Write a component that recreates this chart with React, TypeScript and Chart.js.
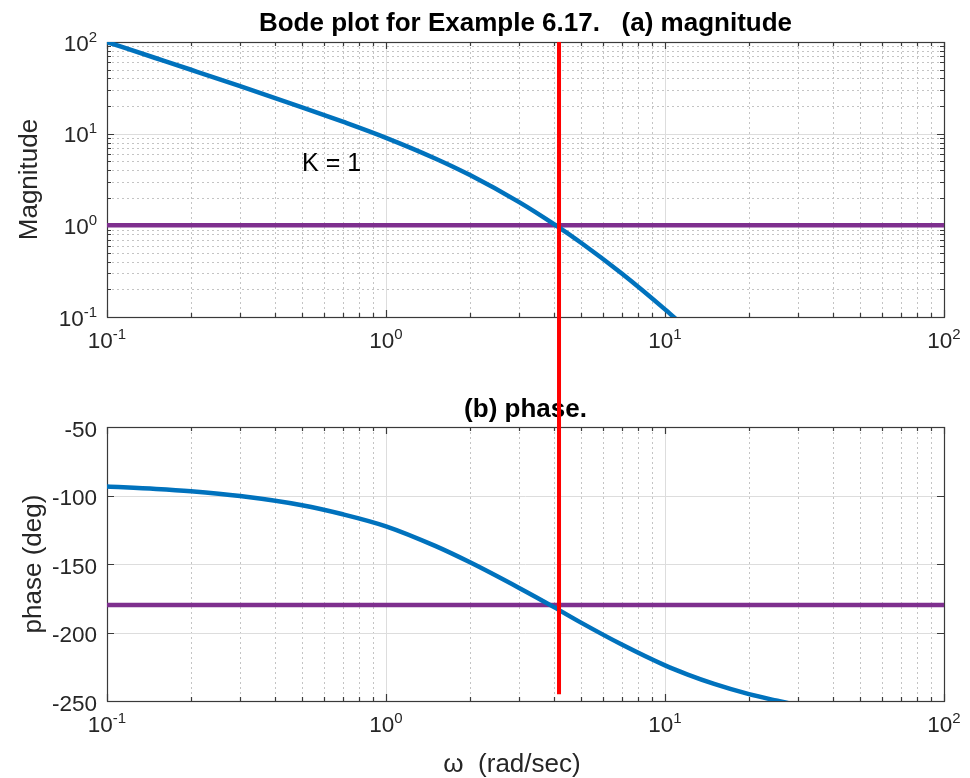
import React, { useEffect, useRef } from 'react';
import { Chart, registerables } from 'chart.js';

Chart.register(...registerables);

// ---------- data ----------
const omega = [0.1, 0.15, 0.2, 0.3, 0.5, 0.7, 1, 1.5, 2, 3, 4, 5, 7, 10, 12, 15, 20, 25, 30, 50, 100];
const magnitude = [99.9, 66.5, 49.8, 33.0, 19.4, 13.5, 9.0, 5.36, 3.53, 1.79, 1.03, 0.646, 0.298, 0.121, 0.074, 0.04, 0.0177, 0.0093, 0.0054, 0.0012, 0.00015];
const phaseDeg = [-93.5, -95.2, -96.9, -100.4, -107.1, -113.7, -122.5, -136.8, -148.8, -167.5, -181.5, -192.8, -208.8, -224.0, -230.5, -237.5, -245.0, -249.6, -253.0, -259.6, -264.8];

const crossoverOmega = 4.17;
const redLineMagTop = 100;
const redLinePhaseEnd = -245;
const magRefLevel = 1;
const phaseRefLevel = -180;

const xTickExponents = [-1, 0, 1, 2];
const magTickExponents = [-1, 0, 1, 2];
const phaseTicks = [-50, -100, -150, -200, -250];
const minorMultipliers = [2, 3, 4, 5, 6, 7, 8, 9];

const titleTop = 'Bode plot for Example 6.17.   (a) magnitude';
const titleBottom = '(b) phase.';
const magLabel = 'Magnitude';
const phaseLabel = 'phase (deg)';
const xLabel = 'ω  (rad/sec)';
const annotationText = 'K = 1';
const annotationAt = { x: 0.5, y: 5 };

// ---------- styling ----------
const FONT = '"Liberation Sans", Arial, Helvetica, sans-serif';
const TEXT = '#262626';
const BLUE = '#0072BD';
const PURPLE = '#7E2F8E';
const RED = '#FF0000';
const W = 970;
const TOP_H = 380;
const BOT_H = 398;

const decadesFrom = (exps: number[]) => exps.map((e) => Math.pow(10, e));
const minorsFrom = (exps: number[]) => {
  const out: number[] = [];
  for (let i = 0; i < exps.length - 1; i++) {
    for (const m of minorMultipliers) out.push(m * Math.pow(10, exps[i]));
  }
  return out;
};

type Lbl = { v: number; base: string; sup: string };
type AxesCfg = {
  xMajor: number[];
  xMinor: number[];
  yMajor: number[];
  yMinor: number[];
  xLabels: Lbl[];
  yLabels: Lbl[];
  yLabelBaselineShift: number;
  title: string;
  titleBaseline: number;
  yTitle: string;
  yTitleX: number;
  xTitle?: string;
  xTitleX?: number;
  xTitleBaseline?: number;
  annotation?: { text: string; x: number; y: number };
};

const snap = (v: number) => Math.round(v) + 0.5;

function drawSup(
  ctx: CanvasRenderingContext2D,
  base: string,
  sup: string,
  x: number,
  baseline: number,
  align: 'center' | 'right'
) {
  const baseFont = `22.5px ${FONT}`;
  const supFont = `15px ${FONT}`;
  ctx.font = baseFont;
  const wb = ctx.measureText(base).width;
  ctx.font = supFont;
  const ws = sup ? ctx.measureText(sup).width : 0;
  const total = wb + ws;
  const sx = align === 'center' ? x - total / 2 : x - total;
  ctx.textAlign = 'left';
  ctx.textBaseline = 'alphabetic';
  ctx.font = baseFont;
  ctx.fillText(base, sx, baseline);
  if (sup) {
    ctx.font = supFont;
    ctx.fillText(sup, sx + wb, baseline - 9);
  }
}

function makeAxesPlugin(cfg: AxesCfg) {
  return {
    id: 'matlabAxes',
    beforeDatasetsDraw(chart: any) {
      const { ctx, chartArea } = chart;
      const xs = chart.scales.x;
      const ys = chart.scales.y;
      const L = chartArea.left;
      const R = chartArea.right;
      const T = chartArea.top;
      const B = chartArea.bottom;
      ctx.save();

      // minor grid (dotted)
      ctx.lineWidth = 1;
      ctx.setLineDash([2, 3]);
      ctx.strokeStyle = '#c4c4c4';
      ctx.beginPath();
      for (const v of cfg.xMinor) {
        const px = snap(xs.getPixelForValue(v));
        ctx.moveTo(px, T);
        ctx.lineTo(px, B);
      }
      for (const v of cfg.yMinor) {
        const py = snap(ys.getPixelForValue(v));
        ctx.moveTo(L, py);
        ctx.lineTo(R, py);
      }
      ctx.stroke();

      // major grid (solid)
      ctx.setLineDash([]);
      ctx.strokeStyle = '#dddddd';
      ctx.beginPath();
      for (const v of cfg.xMajor) {
        const px = snap(xs.getPixelForValue(v));
        ctx.moveTo(px, T);
        ctx.lineTo(px, B);
      }
      for (const v of cfg.yMajor) {
        const py = snap(ys.getPixelForValue(v));
        ctx.moveTo(L, py);
        ctx.lineTo(R, py);
      }
      ctx.stroke();

      // ticks (inward, all four sides)
      ctx.strokeStyle = '#3a3a3a';
      ctx.lineWidth = 1.2;
      ctx.beginPath();
      const xt = (vals: number[], len: number) => {
        for (const v of vals) {
          const px = snap(xs.getPixelForValue(v));
          ctx.moveTo(px, B);
          ctx.lineTo(px, B - len);
          ctx.moveTo(px, T);
          ctx.lineTo(px, T + len);
        }
      };
      const yt = (vals: number[], len: number) => {
        for (const v of vals) {
          const py = snap(ys.getPixelForValue(v));
          ctx.moveTo(L, py);
          ctx.lineTo(L + len, py);
          ctx.moveTo(R, py);
          ctx.lineTo(R - len, py);
        }
      };
      xt(cfg.xMajor, 7);
      xt(cfg.xMinor, 4);
      yt(cfg.yMajor, 7);
      yt(cfg.yMinor, 4);
      ctx.stroke();

      // box
      ctx.strokeRect(snap(L), snap(T), Math.round(R) - Math.round(L), Math.round(B) - Math.round(T));

      // tick labels
      ctx.fillStyle = TEXT;
      for (const l of cfg.xLabels) {
        drawSup(ctx, l.base, l.sup, xs.getPixelForValue(l.v), B + 31, 'center');
      }
      for (const l of cfg.yLabels) {
        drawSup(ctx, l.base, l.sup, L - 10, ys.getPixelForValue(l.v) + cfg.yLabelBaselineShift, 'right');
      }

      // title
      ctx.font = `bold 26px ${FONT}`;
      ctx.textAlign = 'center';
      ctx.textBaseline = 'alphabetic';
      ctx.fillStyle = '#000000';
      ctx.fillText(cfg.title, (L + R) / 2, cfg.titleBaseline);

      // y title
      ctx.fillStyle = TEXT;
      ctx.font = `26px ${FONT}`;
      ctx.save();
      ctx.translate(cfg.yTitleX, (T + B) / 2);
      ctx.rotate(-Math.PI / 2);
      ctx.textAlign = 'center';
      ctx.fillText(cfg.yTitle, 0, 0);
      ctx.restore();

      // x title
      if (cfg.xTitle) {
        ctx.font = `26px ${FONT}`;
        ctx.textAlign = 'center';
        ctx.fillText(cfg.xTitle, cfg.xTitleX as number, cfg.xTitleBaseline as number);
      }

      // annotation
      if (cfg.annotation) {
        ctx.font = `25px ${FONT}`;
        ctx.textAlign = 'left';
        ctx.fillStyle = '#000000';
        ctx.fillText(
          cfg.annotation.text,
          xs.getPixelForValue(cfg.annotation.x),
          ys.getPixelForValue(cfg.annotation.y) + 10
        );
      }
      ctx.restore();
    },
  };
}

const xMajor = decadesFrom(xTickExponents);
const xMinor = minorsFrom(xTickExponents);
const xLabels: Lbl[] = xTickExponents.map((e) => ({ v: Math.pow(10, e), base: '10', sup: String(e) }));

function baseOptions(padding: any, yScale: any) {
  return {
    responsive: false,
    animation: false as const,
    events: [],
    layout: { padding },
    scales: {
      x: { type: 'logarithmic' as const, min: 0.1, max: 100, display: false },
      y: { ...yScale, display: false },
    },
    plugins: {
      legend: { display: false },
      tooltip: { enabled: false },
      title: { display: false },
    },
  };
}

export default function App() {
  const topRef = useRef<HTMLCanvasElement | null>(null);
  const botRef = useRef<HTMLCanvasElement | null>(null);

  useEffect(() => {
    document.body.style.margin = '0';
    const topChart = new Chart(topRef.current as HTMLCanvasElement, {
      type: 'line',
      data: {
        datasets: [
          {
            data: [
              { x: crossoverOmega, y: redLineMagTop },
              { x: crossoverOmega, y: 0.001 },
            ],
            borderColor: RED,
            borderWidth: 4,
            pointRadius: 0,
            clip: false as any,
          },
          {
            data: omega.map((w, i) => ({ x: w, y: magnitude[i] })),
            borderColor: BLUE,
            borderWidth: 4.5,
            pointRadius: 0,
            cubicInterpolationMode: 'monotone',
            clip: 0 as any,
          },
          {
            data: [
              { x: 0.1, y: magRefLevel },
              { x: 100, y: magRefLevel },
            ],
            borderColor: PURPLE,
            borderWidth: 4.5,
            pointRadius: 0,
            clip: 0 as any,
          },
        ],
      },
      options: baseOptions(
        { left: 107, right: 26, top: 42, bottom: TOP_H - 317 },
        { type: 'logarithmic', min: 0.1, max: 100 }
      ) as any,
      plugins: [
        makeAxesPlugin({
          xMajor,
          xMinor,
          yMajor: decadesFrom(magTickExponents),
          yMinor: minorsFrom(magTickExponents),
          xLabels,
          yLabels: magTickExponents.map((e) => ({ v: Math.pow(10, e), base: '10', sup: String(e) })),
          yLabelBaselineShift: 8.5,
          title: titleTop,
          titleBaseline: 31,
          yTitle: magLabel,
          yTitleX: 37,
          annotation: { text: annotationText, x: annotationAt.x, y: annotationAt.y },
        }),
      ],
    });

    const botChart = new Chart(botRef.current as HTMLCanvasElement, {
      type: 'line',
      data: {
        datasets: [
          {
            data: [
              { x: crossoverOmega, y: 0 },
              { x: crossoverOmega, y: redLinePhaseEnd },
            ],
            borderColor: RED,
            borderWidth: 4,
            pointRadius: 0,
            clip: false as any,
          },
          {
            data: omega.map((w, i) => ({ x: w, y: phaseDeg[i] })),
            borderColor: BLUE,
            borderWidth: 4.5,
            pointRadius: 0,
            cubicInterpolationMode: 'monotone',
            clip: 0 as any,
          },
          {
            data: [
              { x: 0.1, y: phaseRefLevel },
              { x: 100, y: phaseRefLevel },
            ],
            borderColor: PURPLE,
            borderWidth: 4.5,
            pointRadius: 0,
            clip: 0 as any,
          },
        ],
      },
      options: baseOptions(
        { left: 107, right: 26, top: 47, bottom: BOT_H - 321 },
        { type: 'linear', min: -250, max: -50 }
      ) as any,
      plugins: [
        makeAxesPlugin({
          xMajor,
          xMinor,
          yMajor: phaseTicks,
          yMinor: [],
          xLabels,
          yLabels: phaseTicks.map((v) => ({ v, base: String(v), sup: '' })),
          yLabelBaselineShift: 9.5,
          title: titleBottom,
          titleBaseline: 37,
          yTitle: phaseLabel,
          yTitleX: 41,
          xTitle: xLabel,
          xTitleX: 512,
          xTitleBaseline: 392,
        }),
      ],
    });

    return () => {
      topChart.destroy();
      botChart.destroy();
    };
  }, []);

  return (
    <div style={{ position: 'absolute', left: 0, top: 0, width: W, height: TOP_H + BOT_H, background: '#ffffff' }}>
      <canvas
        ref={topRef}
        width={W}
        height={TOP_H}
        style={{ position: 'absolute', left: 0, top: 0, display: 'block' }}
      />
      <canvas
        ref={botRef}
        width={W}
        height={BOT_H}
        style={{ position: 'absolute', left: 0, top: TOP_H, display: 'block' }}
      />
    </div>
  );
}
